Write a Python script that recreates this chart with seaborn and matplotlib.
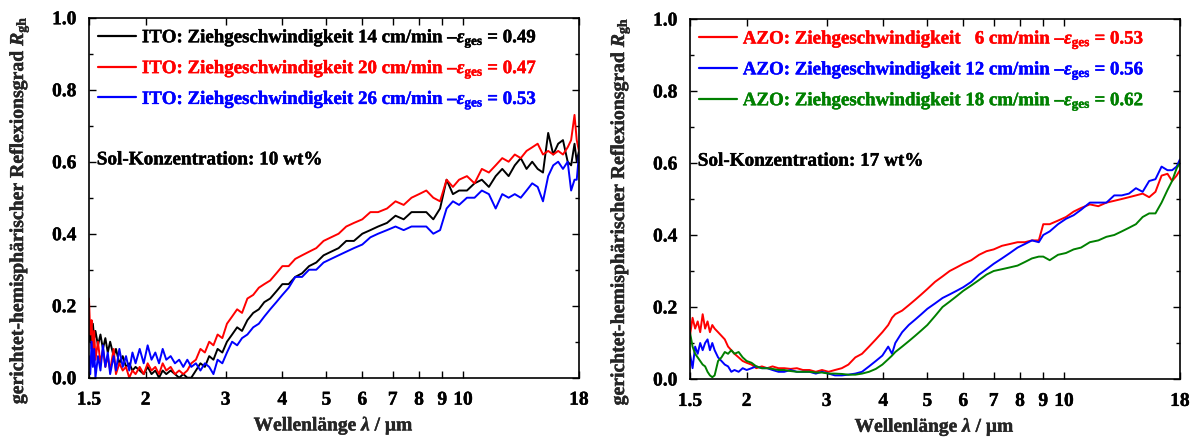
import matplotlib
matplotlib.use("Agg")
import matplotlib.pyplot as plt
import matplotlib.patheffects as pe
from matplotlib.ticker import FixedLocator, FixedFormatter, MultipleLocator, NullLocator, FormatStrFormatter
import pandas as pd
import seaborn as sns

# ---------------- ITO panel (shared wavelength grid, µm) ----------------
wl_ito = [
    1.50, 1.51, 1.52, 1.53, 1.54, 1.55, 1.57, 1.59, 1.61, 1.63,
    1.65, 1.67, 1.70, 1.72, 1.75, 1.78, 1.81, 1.84, 1.87, 1.90,
    1.94, 1.98, 2.02, 2.06, 2.10, 2.14, 2.18, 2.22, 2.27, 2.32,
    2.37, 2.42, 2.47, 2.52, 2.58, 2.64, 2.70, 2.76, 2.82, 2.88,
    2.95, 3.02, 3.10, 3.18, 3.26, 3.35, 3.45, 3.55, 3.65, 3.76,
    3.88, 4.00, 4.13, 4.27, 4.42, 4.58, 4.75, 4.93, 5.12, 5.32,
    5.53, 5.75, 6.00, 6.25, 6.50, 6.80, 7.10, 7.40, 7.70, 8.00,
    8.30, 8.60, 8.90, 9.20, 9.50, 9.80, 10.2, 10.6, 11.0, 11.4,
    11.8, 12.2, 12.6, 13.0, 13.4, 13.8, 14.2, 14.6, 15.0, 15.4,
    15.8, 16.2, 16.6, 17.0, 17.3, 17.6, 17.8, 18.0,
]
r_ito_14 = [
    0.10, 0.14, 0.08, 0.15, 0.11, 0.13, 0.09, 0.12, 0.08, 0.11,
    0.07, 0.10, 0.06, 0.08, 0.04, 0.06, 0.03, 0.04, 0.02, 0.03,
    0.02, 0.01, 0.03, 0.01, 0.02, 0.00, 0.02, 0.01, 0.02, 0.01,
    0.00, 0.01, 0.00, 0.00, 0.02, 0.04, 0.03, 0.06, 0.05, 0.08,
    0.07, 0.10, 0.12, 0.14, 0.13, 0.16, 0.18, 0.19, 0.21, 0.22,
    0.24, 0.26, 0.26, 0.28, 0.29, 0.31, 0.32, 0.34, 0.35, 0.36,
    0.38, 0.38, 0.40, 0.41, 0.42, 0.43, 0.45, 0.44, 0.46, 0.46,
    0.46, 0.44, 0.47, 0.55, 0.51, 0.52, 0.52, 0.54, 0.55, 0.53,
    0.56, 0.58, 0.56, 0.59, 0.61, 0.58, 0.60, 0.58, 0.57, 0.68,
    0.62, 0.65, 0.66, 0.60, 0.59, 0.65, 0.60, 0.63,
]
r_ito_20 = [
    0.22, 0.12, 0.16, 0.07, 0.13, 0.05, 0.10, 0.04, 0.08, 0.03,
    0.06, 0.02, 0.08, 0.01, 0.04, 0.02, 0.03, 0.00, 0.02, 0.01,
    0.03, 0.01, 0.04, 0.02, 0.03, 0.01, 0.04, 0.02, 0.03, 0.01,
    0.02, 0.01, 0.02, 0.04, 0.05, 0.08, 0.07, 0.10, 0.09, 0.12,
    0.11, 0.15, 0.17, 0.19, 0.18, 0.22, 0.23, 0.25, 0.26, 0.27,
    0.29, 0.31, 0.31, 0.33, 0.34, 0.35, 0.36, 0.38, 0.39, 0.40,
    0.42, 0.43, 0.44, 0.46, 0.46, 0.47, 0.49, 0.48, 0.50, 0.51,
    0.52, 0.50, 0.49, 0.55, 0.53, 0.55, 0.56, 0.54, 0.58, 0.57,
    0.59, 0.61, 0.60, 0.62, 0.61, 0.63, 0.64, 0.65, 0.62, 0.63,
    0.62, 0.63, 0.62, 0.64, 0.66, 0.73, 0.66, 0.63,
]
r_ito_26 = [
    0.06, 0.01, 0.10, 0.03, 0.08, 0.00, 0.06, 0.02, 0.09, 0.03,
    0.07, 0.01, 0.06, 0.02, 0.08, 0.03, 0.06, 0.02, 0.07, 0.04,
    0.08, 0.04, 0.09, 0.05, 0.07, 0.04, 0.08, 0.05, 0.06, 0.04,
    0.05, 0.03, 0.05, 0.03, 0.04, 0.02, 0.04, 0.03, 0.01, 0.05,
    0.04, 0.07, 0.10, 0.09, 0.11, 0.12, 0.14, 0.15, 0.17, 0.19,
    0.21, 0.23, 0.25, 0.28, 0.28, 0.30, 0.30, 0.32, 0.33, 0.34,
    0.35, 0.36, 0.37, 0.39, 0.40, 0.41, 0.42, 0.41, 0.42, 0.42,
    0.42, 0.40, 0.41, 0.47, 0.49, 0.48, 0.50, 0.50, 0.52, 0.51,
    0.47, 0.51, 0.50, 0.51, 0.50, 0.52, 0.54, 0.53, 0.49, 0.56,
    0.59, 0.60, 0.58, 0.60, 0.52, 0.55, 0.55, 0.62,
]

# ---------------- AZO panel (shared wavelength grid, µm) ----------------
wl_azo = [
    1.50, 1.52, 1.54, 1.56, 1.58, 1.60, 1.62, 1.64, 1.66, 1.68,
    1.70, 1.73, 1.76, 1.79, 1.82, 1.85, 1.88, 1.92, 1.96, 2.00,
    2.05, 2.10, 2.16, 2.22, 2.28, 2.35, 2.42, 2.50, 2.58, 2.66,
    2.75, 2.84, 2.93, 3.03, 3.13, 3.24, 3.35, 3.47, 3.59, 3.72,
    3.85, 3.98, 4.10, 4.18, 4.25, 4.40, 4.55, 4.70, 4.85, 5.00,
    5.20, 5.40, 5.60, 5.80, 6.00, 6.25, 6.50, 6.75, 7.00, 7.30,
    7.60, 7.90, 8.20, 8.50, 8.80, 9.00, 9.30, 9.70, 10.1, 10.5,
    10.9, 11.4, 11.9, 12.4, 12.9, 13.4, 13.9, 14.4, 14.9, 15.4,
    15.9, 16.4, 16.9, 17.3, 17.7, 18.0,
]
r_azo_6 = [
    0.12, 0.17, 0.14, 0.16, 0.13, 0.18, 0.14, 0.16, 0.13, 0.15,
    0.14, 0.13, 0.12, 0.11, 0.09, 0.08, 0.07, 0.06, 0.05, 0.045,
    0.04, 0.03, 0.035, 0.03, 0.035, 0.03, 0.03, 0.028, 0.03, 0.025,
    0.025, 0.02, 0.025, 0.02, 0.025, 0.03, 0.04, 0.06, 0.07, 0.09,
    0.11, 0.13, 0.15, 0.17, 0.18, 0.19, 0.205, 0.22, 0.235, 0.25,
    0.27, 0.285, 0.30, 0.31, 0.32, 0.33, 0.345, 0.355, 0.36, 0.37,
    0.375, 0.38, 0.38, 0.385, 0.385, 0.43, 0.43, 0.44, 0.45, 0.465,
    0.475, 0.485, 0.48, 0.49, 0.495, 0.50, 0.505, 0.51, 0.515, 0.505,
    0.52, 0.565, 0.57, 0.55, 0.565, 0.58,
]
r_azo_12 = [
    0.07, 0.03, 0.09, 0.07, 0.10, 0.08, 0.10, 0.11, 0.08, 0.10,
    0.08, 0.06, 0.05, 0.04, 0.035, 0.02, 0.025, 0.02, 0.03, 0.025,
    0.03, 0.035, 0.03, 0.03, 0.025, 0.02, 0.02, 0.025, 0.02, 0.02,
    0.02, 0.015, 0.02, 0.015, 0.01, 0.01, 0.012, 0.015, 0.02, 0.035,
    0.05, 0.065, 0.09, 0.07, 0.10, 0.13, 0.15, 0.165, 0.18, 0.195,
    0.21, 0.225, 0.235, 0.245, 0.255, 0.27, 0.29, 0.305, 0.32, 0.335,
    0.35, 0.365, 0.375, 0.385, 0.38, 0.40, 0.41, 0.43, 0.445, 0.455,
    0.47, 0.49, 0.49, 0.49, 0.51, 0.51, 0.515, 0.53, 0.52, 0.55,
    0.555, 0.59, 0.58, 0.58, 0.59, 0.61,
]
r_azo_18 = [
    0.13, 0.09, 0.07, 0.06, 0.05, 0.04, 0.035, 0.02, 0.01, 0.005,
    0.01, 0.05, 0.06, 0.075, 0.07, 0.08, 0.07, 0.075, 0.06, 0.05,
    0.045, 0.035, 0.03, 0.03, 0.028, 0.025, 0.025, 0.022, 0.02, 0.02,
    0.02, 0.018, 0.018, 0.015, 0.015, 0.014, 0.012, 0.012, 0.015, 0.02,
    0.028, 0.04, 0.055, 0.065, 0.075, 0.09, 0.105, 0.12, 0.135, 0.15,
    0.175, 0.20, 0.215, 0.23, 0.245, 0.26, 0.275, 0.29, 0.30, 0.305,
    0.31, 0.315, 0.325, 0.335, 0.34, 0.34, 0.33, 0.345, 0.35, 0.36,
    0.365, 0.38, 0.385, 0.395, 0.40, 0.41, 0.42, 0.43, 0.45, 0.46,
    0.46, 0.49, 0.525, 0.55, 0.585, 0.60,
]

x_ticks = [1.5, 2, 3, 4, 5, 6, 7, 8, 9, 10, 18]
x_ticklabels = ["1.5", "2", "3", "4", "5", "6", "7", "8", "9", "10", "18"]

ito_series = [
    (r_ito_14, "black", "ITO: Ziehgeschwindigkeit 14 cm/min \u2013$\\varepsilon_{\\mathrm{ges}}$ = 0.49"),
    (r_ito_20, "#ff0000", "ITO: Ziehgeschwindigkeit 20 cm/min \u2013$\\varepsilon_{\\mathrm{ges}}$ = 0.47"),
    (r_ito_26, "#0000ff", "ITO: Ziehgeschwindigkeit 26 cm/min \u2013$\\varepsilon_{\\mathrm{ges}}$ = 0.53"),
]
azo_series = [
    (r_azo_6, "#ff0000", "AZO: Ziehgeschwindigkeit   6 cm/min \u2013$\\varepsilon_{\\mathrm{ges}}$ = 0.53"),
    (r_azo_12, "#0000ff", "AZO: Ziehgeschwindigkeit 12 cm/min \u2013$\\varepsilon_{\\mathrm{ges}}$ = 0.56"),
    (r_azo_18, "#008000", "AZO: Ziehgeschwindigkeit 18 cm/min \u2013$\\varepsilon_{\\mathrm{ges}}$ = 0.62"),
]

sns.set_theme(style="ticks")
plt.rcParams["font.family"] = ["Liberation Serif", "DejaVu Serif"]
plt.rcParams["font.weight"] = "bold"
plt.rcParams["axes.labelweight"] = "bold"
plt.rcParams["mathtext.fontset"] = "custom"
plt.rcParams["mathtext.rm"] = "Liberation Serif:bold"
plt.rcParams["mathtext.bf"] = "Liberation Serif:bold"
plt.rcParams["mathtext.it"] = "Liberation Serif:italic:bold"

fig = plt.figure(figsize=(11.91, 4.41), dpi=100)
ax_l = fig.add_axes([0.0747, 0.1435, 0.4114, 0.8163])
ax_r = fig.add_axes([0.5793, 0.1406, 0.4114, 0.8163])


def heavier(txt, w=0.3):
    # thin outline in the text's own colour for a heavier bold look
    txt.set_path_effects([pe.withStroke(linewidth=w, foreground=txt.get_color())])


def draw_panel(ax, wl, series, note):
    for vals, col, lab in series:
        df = pd.DataFrame({"wl": wl, "R": vals})
        sns.lineplot(data=df, x="wl", y="R", color=col, lw=1.4, label=lab,
                     estimator=None, sort=False, ax=ax)
    ax.set_xscale("log")
    ax.set_xlim(1.5, 18)
    ax.set_ylim(0, 1.0)
    ax.xaxis.set_major_locator(FixedLocator(x_ticks))
    ax.xaxis.set_major_formatter(FixedFormatter(x_ticklabels))
    ax.xaxis.set_minor_locator(NullLocator())
    ax.yaxis.set_major_locator(MultipleLocator(0.2))
    ax.yaxis.set_minor_locator(MultipleLocator(0.1))
    ax.yaxis.set_major_formatter(FormatStrFormatter("%.1f"))
    ax.tick_params(axis="both", which="both", direction="in", top=True, right=True,
                   labelsize=14, width=1.0, colors="black")
    ax.tick_params(axis="x", which="major", pad=10)
    ax.tick_params(axis="y", which="major", pad=9)
    ax.tick_params(which="major", length=5)
    ax.tick_params(which="minor", length=3)
    for lbl in ax.get_xticklabels() + ax.get_yticklabels():
        lbl.set_fontweight("bold")
        heavier(lbl)
    for sp in ax.spines.values():
        sp.set_visible(True)
        sp.set_linewidth(1.2)
        sp.set_color("black")
    ax.set_xlabel("Wellenlänge $\\lambda$ / µm", fontsize=14, fontweight="bold", labelpad=5)
    ax.set_ylabel("gerichtet-hemisphärischer Reflexionsgrad $R_{\\mathrm{gh}}$",
                  fontsize=14.2, fontweight="bold")
    ax.yaxis.set_label_coords(-0.118, 0.466)
    heavier(ax.xaxis.label)
    heavier(ax.yaxis.label)
    t = ax.text(0.016, 0.605, note, transform=ax.transAxes, fontsize=13.8,
                fontweight="bold", ha="left", va="center", color="black")
    heavier(t)
    leg = ax.legend(loc="upper left", frameon=False, handlelength=2.0,
                    handletextpad=0.3, labelspacing=0.42, borderaxespad=0.0,
                    borderpad=0.5, labelcolor="linecolor",
                    prop={"weight": "bold", "size": 13.6})
    for line in leg.get_lines():
        line.set_linewidth(1.6)
    for txt in leg.get_texts():
        heavier(txt)


draw_panel(ax_l, wl_ito, ito_series, "Sol-Konzentration: 10 wt%")
draw_panel(ax_r, wl_azo, azo_series, "Sol-Konzentration: 17 wt%")

fig.savefig("out.png", dpi=100)
